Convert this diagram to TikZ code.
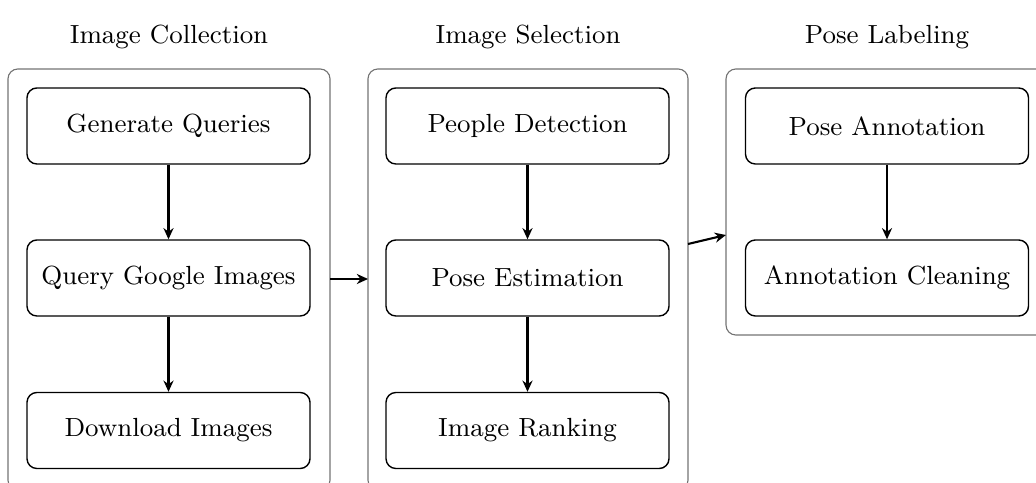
\documentclass[tikz,border=0pt]{standalone}
\usetikzlibrary{arrows.meta}
\begin{document}
\begin{tikzpicture}[x=0.357pt,y=-0.357pt,
  every node/.style={font=\fontsize{9.36}{11}\selectfont},
  stepbox/.style={draw=black,line width=0.5pt,rounded corners=3.5pt,minimum width=283*0.357pt,minimum height=76*0.357pt,inner sep=0pt},
  groupbox/.style={draw=black!55,line width=0.4pt,rounded corners=3.5pt},
  flow/.style={-{Stealth[length=4pt,width=3.6pt,inset=1.3pt]},line width=0.75pt}]
\useasboundingbox (0,0) rectangle (1036,483);
% groups
\draw[groupbox] (8,69) rectangle (330,490);
\draw[groupbox] (368,69) rectangle (688,490);
\draw[groupbox] (726,69) rectangle (1046,335);
\node (t1) at (169,37) {Image Collection};
\node (t2) at (528,37) {Image Selection};
\node (t3) at (887,37) {Pose Labeling};
% boxes
\node[stepbox] (a1) at (168.5,126) {Generate Queries};
\node[stepbox] (a2) at (168.5,278) {Query Google Images};
\node[stepbox] (a3) at (168.5,430.5) {Download Images};
\node[stepbox] (b1) at (527.5,126) {People Detection};
\node[stepbox] (b2) at (527.5,278) {Pose Estimation};
\node[stepbox] (b3) at (527.5,430.5) {Image Ranking};
\node[stepbox] (c1) at (887,126) {Pose Annotation};
\node[stepbox] (c2) at (887,278) {Annotation Cleaning};
\draw[flow] (a1) -- (a2);
\draw[flow] (a2) -- (a3);
\draw[flow] (b1) -- (b2);
\draw[flow] (b2) -- (b3);
\draw[flow] (c1) -- (c2);
\coordinate (g1e) at (330,279);
\coordinate (g2w) at (368,279);
\coordinate (g2e) at (688,244);
\coordinate (g3w) at (726,235);
\draw[flow] (g1e) -- (g2w);
\draw[flow] (g2e) -- (g3w);
\end{tikzpicture}
\end{document}
